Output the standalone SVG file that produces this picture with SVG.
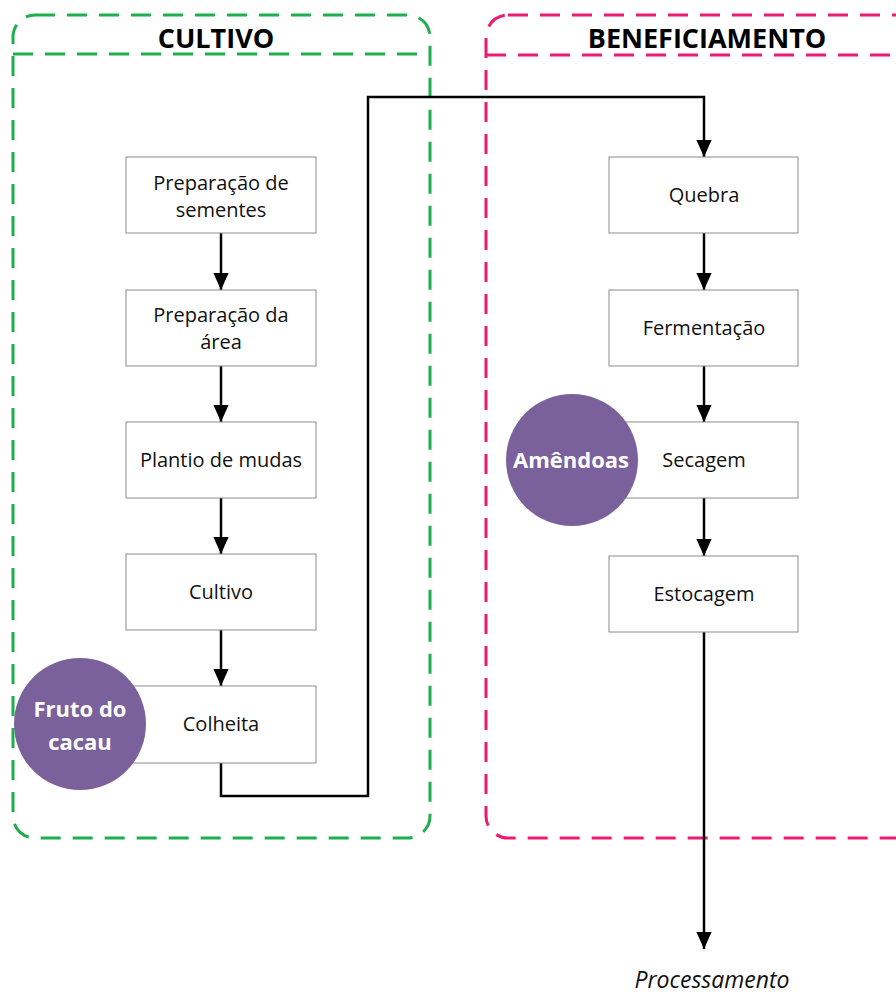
<svg xmlns="http://www.w3.org/2000/svg" width="896" height="994" viewBox="0 0 896 994">
  <defs>
    <marker id="arrow" markerWidth="17" markerHeight="19" refX="19" refY="8.5" orient="auto" markerUnits="userSpaceOnUse" viewBox="0 0 19 17">
      <path d="M0,0 L19,8.5 L0,17 Z" fill="#000"/>
    </marker>
    <style>
      .box { fill: #fff; stroke: #8c8c8c; stroke-width: 1; }
      .lbl { font-family: "Open Sans", "Noto Sans", sans-serif; font-size: 20px; fill: #111; text-anchor: middle; }
      .title { font-family: "Open Sans", "Noto Sans", sans-serif; font-size: 27px; font-weight: bold; fill: #000; text-anchor: middle; }
      .circ { fill: #7a619c; }
      .clbl { font-family: "Open Sans", "Noto Sans", sans-serif; font-size: 22px; font-weight: bold; fill: #fff; text-anchor: middle; }
      .edge { fill: none; stroke: #000; stroke-width: 2.5; marker-end: url(#arrow); }
      .zone-green { fill: none; stroke: #1fae4d; stroke-width: 3; stroke-dasharray: 20 12; }
      .zone-pink { fill: none; stroke: #ec1a72; stroke-width: 3; stroke-dasharray: 20 12; }
    </style>
  </defs>
  <rect width="896" height="994" fill="#fff"/>

  <!-- stage containers -->
  <g id="zone-cultivo">
    <rect class="zone-green" x="13" y="15" width="417" height="823" rx="22"/>
    <line class="zone-green" x1="13" y1="54" x2="430" y2="54"/>
    <text class="title" x="216" y="48">CULTIVO</text>
  </g>
  <g id="zone-beneficiamento">
    <rect class="zone-pink" x="486" y="15" width="440" height="823" rx="22"/>
    <line class="zone-pink" x1="486" y1="55" x2="896" y2="55"/>
    <text class="title" x="707" y="48">BENEFICIAMENTO</text>
  </g>

  <!-- connectors -->
  <g id="connectors">
    <line class="edge" x1="221" y1="233" x2="221" y2="290"/>
    <line class="edge" x1="221" y1="366" x2="221" y2="422"/>
    <line class="edge" x1="221" y1="498" x2="221" y2="554"/>
    <line class="edge" x1="221" y1="630" x2="221" y2="686"/>
    <polyline class="edge" points="221,763 221,796 368,796 368,97 704,97 704,157"/>
    <line class="edge" x1="704" y1="233" x2="704" y2="290"/>
    <line class="edge" x1="704" y1="366" x2="704" y2="422"/>
    <line class="edge" x1="704" y1="498" x2="704" y2="556"/>
    <line class="edge" x1="704" y1="632" x2="704" y2="949"/>
  </g>

  <!-- cultivation steps -->
  <g id="n-preparacao-sementes">
    <rect class="box" x="126" y="157" width="190" height="76"/>
    <text class="lbl" x="221" y="190">Preparação de</text>
    <text class="lbl" x="221" y="217">sementes</text>
  </g>
  <g id="n-preparacao-area">
    <rect class="box" x="126" y="290" width="190" height="76"/>
    <text class="lbl" x="221" y="322">Preparação da</text>
    <text class="lbl" x="221" y="349">área</text>
  </g>
  <g id="n-plantio">
    <rect class="box" x="126" y="422" width="190" height="76"/>
    <text class="lbl" x="221" y="467">Plantio de mudas</text>
  </g>
  <g id="n-cultivo">
    <rect class="box" x="126" y="554" width="190" height="76"/>
    <text class="lbl" x="221" y="599">Cultivo</text>
  </g>
  <g id="n-colheita">
    <rect class="box" x="126" y="686" width="190" height="77"/>
    <text class="lbl" x="221" y="731">Colheita</text>
  </g>
  <g id="n-fruto">
    <circle class="circ" cx="80" cy="724" r="66"/>
    <text class="clbl" x="80" y="717">Fruto do</text>
    <text class="clbl" x="80" y="750">cacau</text>
  </g>

  <!-- processing steps -->
  <g id="n-quebra">
    <rect class="box" x="609" y="157" width="189" height="76"/>
    <text class="lbl" x="704" y="202">Quebra</text>
  </g>
  <g id="n-fermentacao">
    <rect class="box" x="609" y="290" width="189" height="76"/>
    <text class="lbl" x="704" y="335">Fermentação</text>
  </g>
  <g id="n-secagem">
    <rect class="box" x="609" y="422" width="189" height="76"/>
    <text class="lbl" x="704" y="467">Secagem</text>
  </g>
  <g id="n-amendoas">
    <circle class="circ" cx="572" cy="460" r="66"/>
    <text class="clbl" x="571" y="468">Amêndoas</text>
  </g>
  <g id="n-estocagem">
    <rect class="box" x="609" y="556" width="189" height="76"/>
    <text class="lbl" x="704" y="601">Estocagem</text>
  </g>

  <g id="n-processamento">
    <text class="lbl" x="712" y="988" font-style="italic" style="font-size:23px">Processamento</text>
  </g>
</svg>
